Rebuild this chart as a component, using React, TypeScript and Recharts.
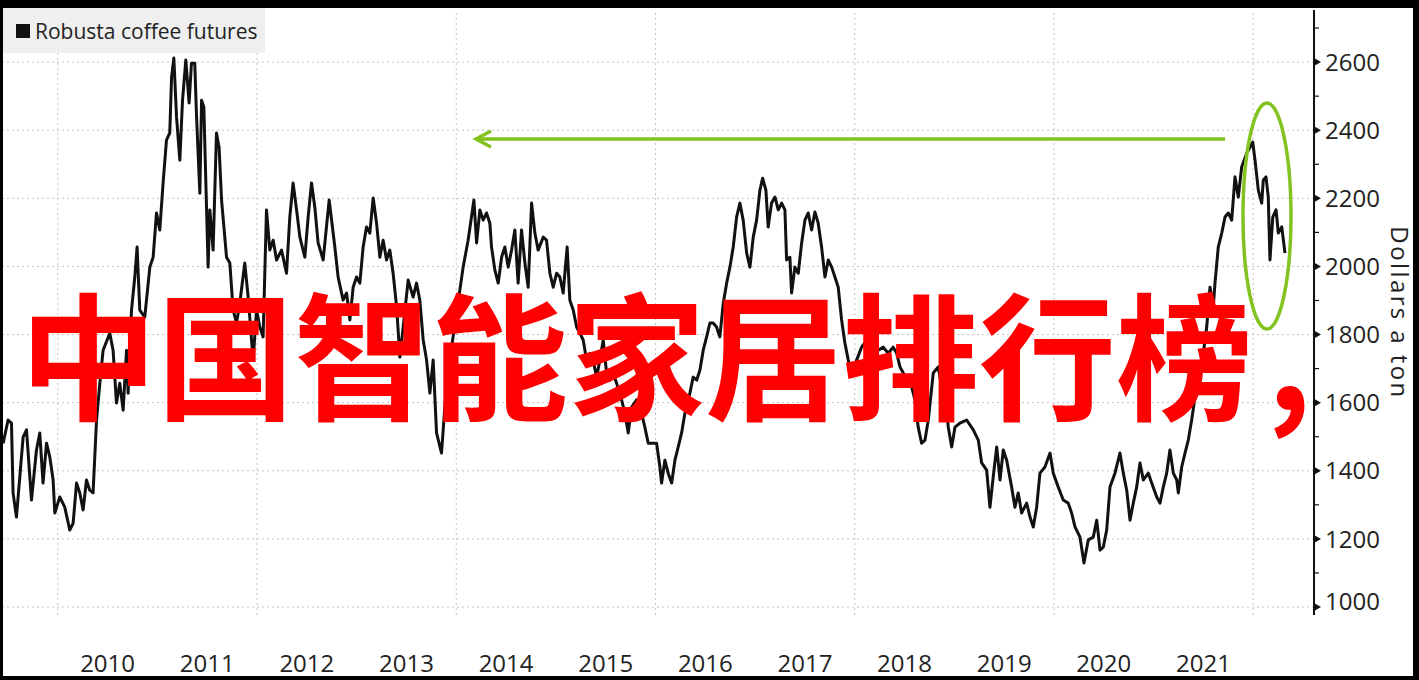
import React from 'react'
import { LineChart, Line, XAxis, YAxis, ReferenceLine } from 'recharts'

// decimal years
const dates = [
  2009.451, 2009.501, 2009.535, 2009.551, 2009.585, 2009.652, 2009.686, 2009.736, 2009.786, 2009.819, 2009.852, 2009.887, 2009.92, 2009.953, 2009.97,
  2010.02, 2010.07, 2010.12, 2010.154, 2010.188, 2010.221, 2010.254, 2010.288, 2010.321, 2010.354, 2010.389, 2010.422, 2010.455,
  2010.522, 2010.555, 2010.589, 2010.622, 2010.656, 2010.69, 2010.706, 2010.74, 2010.773, 2010.796, 2010.823, 2010.873,
  2010.924, 2010.957, 2010.991, 2011.024, 2011.057, 2011.091, 2011.124, 2011.142, 2011.165, 2011.192, 2011.225, 2011.252, 2011.285, 2011.318, 2011.342, 2011.375, 2011.393, 2011.426, 2011.443, 2011.466,
  2011.509, 2011.526, 2011.559, 2011.593, 2011.619, 2011.644, 2011.694, 2011.727, 2011.76, 2011.794, 2011.827, 2011.877, 2011.911, 2011.961, 2011.995, 2012.028, 2012.061, 2012.095, 2012.128, 2012.162,
  2012.196, 2012.246, 2012.296, 2012.329, 2012.362, 2012.397, 2012.43, 2012.48, 2012.513, 2012.547, 2012.58, 2012.613, 2012.664,
  2012.724, 2012.781, 2012.814, 2012.864, 2012.899, 2012.932, 2012.965, 2012.999, 2013.032, 2013.065, 2013.099, 2013.132, 2013.166, 2013.2, 2013.233, 2013.266, 2013.3,
  2013.333, 2013.366, 2013.401, 2013.434, 2013.467, 2013.517, 2013.567, 2013.601, 2013.634, 2013.668, 2013.702, 2013.735, 2013.768, 2013.802, 2013.852, 2013.885, 2013.919, 2013.953,
  2014.069, 2014.119, 2014.177, 2014.204, 2014.237, 2014.27, 2014.304, 2014.337, 2014.354, 2014.387, 2014.421, 2014.455, 2014.488, 2014.521, 2014.555, 2014.588, 2014.621, 2014.655, 2014.689, 2014.722, 2014.756, 2014.789,
  2014.822, 2014.873, 2014.906, 2014.94, 2014.973, 2015.007, 2015.04, 2015.073, 2015.113, 2015.14, 2015.174, 2015.208, 2015.241, 2015.274, 2015.308, 2015.341, 2015.374, 2015.408, 2015.442, 2015.475, 2015.509, 2015.542, 2015.575, 2015.642, 2015.693, 2015.726, 2015.76, 2015.81, 2015.86, 2015.893, 2015.927,
  2016.011, 2016.044, 2016.061, 2016.094, 2016.127, 2016.162, 2016.195, 2016.228, 2016.262, 2016.295, 2016.345, 2016.378, 2016.413, 2016.446, 2016.479, 2016.513, 2016.546, 2016.579, 2016.613, 2016.646, 2016.68, 2016.714, 2016.747, 2016.78, 2016.814, 2016.847, 2016.88, 2016.915, 2016.948,
  2016.981, 2017.015, 2017.048, 2017.075, 2017.108, 2017.131, 2017.165, 2017.199, 2017.232, 2017.266, 2017.299, 2017.316, 2017.349, 2017.366, 2017.399, 2017.433, 2017.467, 2017.5, 2017.533, 2017.567, 2017.6, 2017.633, 2017.667, 2017.701, 2017.734, 2017.768, 2017.801, 2017.834, 2017.868, 2017.901,
  2017.935, 2017.969, 2018.019, 2018.069, 2018.119, 2018.152, 2018.186, 2018.236, 2018.286, 2018.336, 2018.386, 2018.421, 2018.454, 2018.487, 2018.521, 2018.571, 2018.604, 2018.637, 2018.671, 2018.705, 2018.738, 2018.788, 2018.838, 2018.872, 2018.905, 2018.939, 2018.973, 2019.006, 2019.056,
  2019.123, 2019.19, 2019.24, 2019.274, 2019.324, 2019.357, 2019.39, 2019.425, 2019.458, 2019.491, 2019.525, 2019.575, 2019.608, 2019.641, 2019.675, 2019.726, 2019.759, 2019.792, 2019.826, 2019.859, 2019.909, 2019.96, 2019.993, 2020.043, 2020.093, 2020.143, 2020.177, 2020.211, 2020.261, 2020.301, 2020.344,
  2020.394, 2020.429, 2020.462, 2020.495, 2020.529, 2020.562, 2020.612, 2020.662, 2020.696, 2020.73, 2020.763, 2020.796, 2020.83, 2020.863, 2020.897, 2020.947, 2020.981, 2021.031, 2021.064, 2021.097, 2021.131, 2021.164, 2021.198, 2021.232, 2021.248, 2021.282, 2021.315, 2021.348, 2021.382, 2021.415,
  2021.449, 2021.499, 2021.533, 2021.566, 2021.599, 2021.616, 2021.649, 2021.684, 2021.717, 2021.75, 2021.784, 2021.817, 2021.85, 2021.884, 2021.935, 2021.968, 2021.995, 2022.018, 2022.051, 2022.085, 2022.101, 2022.128, 2022.151, 2022.168, 2022.196, 2022.229, 2022.252, 2022.286, 2022.319,
]

// dollars a ton
const prices = [
  1480, 1549, 1540, 1335, 1264, 1499, 1520, 1314, 1461, 1511, 1364, 1481, 1440, 1373, 1276,
  1323, 1293, 1226, 1246, 1364, 1335, 1285, 1373, 1343, 1335, 1549, 1657, 1754,
  1804, 1754, 1599, 1657, 1578, 1754, 1628, 1872, 1969, 2057, 1872, 1851,
  1998, 2027, 2157, 2107, 2245, 2371, 2392, 2556, 2612, 2439, 2312, 2488, 2606, 2480, 2597, 2597, 2439, 2215, 2488, 2468,
  1998, 2166, 2048, 2392, 2350, 2195, 2027, 2010, 1872, 1834, 1892, 2010, 1910, 1725, 1872, 1822, 1793, 2166, 2048, 2077,
  2019, 2048, 1980, 2145, 2245, 2166, 2086, 2027, 2145, 2245, 2174, 2069, 2019,
  2195, 2057, 1969, 1901, 1922, 1843, 1939, 1969, 1951, 2057, 2116, 2098, 2201, 2127, 2027, 2077, 2019,
  2048, 1980, 1881, 1734, 1822, 1960, 1910, 1951, 1901, 1784, 1725, 1628, 1725, 1511, 1452, 1587, 1705, 1763,
  1998, 2077, 2195, 2069, 2166, 2136, 2157, 2127, 2057, 1990, 1951, 2027, 2057, 1998, 2048, 2107, 1951, 2107, 2010, 1939, 2186, 2098,
  2048, 2086, 2077, 1980, 1939, 1980, 1969, 1922, 2057, 1901, 1872, 1822, 1804, 1784, 1725, 1745, 1725, 1675, 1725, 1784, 1687, 1666, 1687, 1628, 1569, 1511, 1587, 1608, 1569, 1528, 1481,
  1481, 1411, 1364, 1431, 1393, 1364, 1431, 1470, 1511, 1569, 1628, 1675, 1666, 1696, 1754, 1793, 1834, 1834, 1822, 1793, 1892, 1951, 1998, 2057, 2145, 2186, 2136, 2039, 1998,
  2086, 2136, 2224, 2259, 2224, 2116, 2186, 2204, 2166, 2186, 2166, 2019, 2027, 1922, 1998, 1980, 2069, 2136, 2157, 2107, 2160, 2127, 2057, 1969, 2019, 1998, 1969, 1939, 1843, 1775,
  1725, 1687, 1725, 1763, 1784, 1763, 1745, 1754, 1763, 1745, 1763, 1745, 1705, 1687, 1657, 1646, 1608, 1528, 1481, 1490, 1549, 1687, 1705, 1646, 1628, 1528, 1470, 1528, 1540,
  1549, 1520, 1490, 1423, 1402, 1293, 1382, 1470, 1373, 1461, 1431, 1352, 1293, 1335, 1276, 1305, 1264, 1235, 1293, 1393, 1411, 1452, 1393, 1352, 1314, 1305, 1276, 1235, 1205, 1129, 1197,
  1205, 1255, 1167, 1176, 1226, 1352, 1393, 1452, 1393, 1343, 1255, 1305, 1352, 1423, 1373, 1393, 1364, 1323, 1305, 1352, 1393, 1461, 1393, 1373, 1335, 1411, 1452, 1490, 1549, 1616,
  1675, 1745, 1822, 1939, 1881, 1951, 2057, 2098, 2145, 2157, 2136, 2263, 2204, 2292, 2333, 2350, 2365, 2312, 2224, 2186, 2254, 2263, 2204, 2019, 2145, 2166, 2098, 2116, 2039,
]

const yearLabels = ['2010', '2011', '2012', '2013', '2014', '2015', '2016', '2017', '2018', '2019', '2020', '2021']
const gridYears = [2010, 2012, 2014, 2016, 2018, 2020, 2022]
const majorTicks = [1000, 1200, 1400, 1600, 1800, 2000, 2200, 2400, 2600]
const allTicks = [1000, 1100, 1200, 1300, 1400, 1500, 1600, 1700, 1800, 1900, 2000, 2100, 2200, 2300, 2400, 2500, 2600, 2700]

const seriesName = 'Robusta coffee futures'
const unitLabel = 'Dollars a ton'
const headline = '中国智能家居排行榜'
const headlineTail = ','

const data = dates.slice(0, Math.min(dates.length, prices.length)).map((t, i) => ({ t, price: prices[i] }))

const FONT = "'Open Sans', 'Noto Sans', sans-serif"
const INK = '#222'
const GRID = '#c4c4c4'
const GREEN = '#82c31f'

function PriceTick(props: any) {
  const { x, y, payload } = props
  const v = payload.value
  const ax = x - 11
  const major = v % 200 === 0
  // the bottom label sits a little higher than its tick
  const lift = v === majorTicks[0] ? -6 : 0
  return (
    <g>
      {major ? (
        <path d={`M${ax},${y - 4} L${ax + 7},${y} L${ax},${y + 4} Z`} fill="#111" />
      ) : (
        <line x1={ax} x2={ax + 5} y1={y} y2={y} stroke="#111" strokeWidth={1.2} />
      )}
      {major && (
        <text x={x} y={y + lift} dy="0.36em" fill={INK} fontSize={24} fontFamily={FONT}>
          {v}
        </text>
      )}
    </g>
  )
}

export default function App() {
  return (
    <div style={{ position: 'absolute', left: 0, top: 0, width: 1419, height: 680, background: '#fff', overflow: 'hidden' }}>
      <LineChart width={1419} height={680} data={data} margin={{ top: 10, right: 35, left: 3, bottom: 0 }}>
        {majorTicks.map((v) => (
          <ReferenceLine key={'h' + v} y={v} stroke={GRID} strokeDasharray="2 3" strokeWidth={1} />
        ))}
        {gridYears.map((yr) => (
          <ReferenceLine key={'v' + yr} x={yr} stroke={GRID} strokeDasharray="2 3" strokeWidth={1} />
        ))}
        <XAxis
          type="number"
          dataKey="t"
          domain={[2009.45, 2022.61]}
          allowDataOverflow
          ticks={yearLabels.map((y) => Number(y) + 0.5)}
          tickFormatter={(v) => String(Math.floor(v))}
          axisLine={false}
          tickLine={false}
          tickSize={0}
          tickMargin={40}
          height={65}
          tick={{ fill: INK, fontSize: 24, fontFamily: FONT }}
        />
        <YAxis
          orientation="right"
          domain={[976.5, 2753]}
          allowDataOverflow
          ticks={allTicks}
          interval={0}
          width={70}
          tickSize={5}
          tickMargin={6}
          tickLine={false}
          axisLine={{ stroke: '#111', strokeWidth: 2 }}
          tick={<PriceTick />}
        />
        <Line
          type="linear"
          dataKey="price"
          stroke="#111"
          strokeWidth={3}
          strokeLinejoin="round"
          dot={false}
          isAnimationActive={false}
        />
      </LineChart>

      {/* legend box */}
      <div
        style={{
          position: 'absolute', left: 3, top: 8, width: 262, height: 45, background: 'rgba(238,238,238,0.92)',
          display: 'flex', alignItems: 'center', fontFamily: FONT, fontSize: 21, color: INK,
        }}
      >
        <span style={{ display: 'inline-block', width: 14, height: 14, background: '#111', marginLeft: 13, marginRight: 5 }} />
        {seriesName}
      </div>

      {/* annotations */}
      <svg width={1419} height={680} style={{ position: 'absolute', left: 0, top: 0, pointerEvents: 'none' }}>
        <line x1={478} y1={139} x2={1225} y2={139} stroke={GREEN} strokeWidth={3.5} />
        <polyline points="491,131 476,139 491,147" fill="none" stroke={GREEN} strokeWidth={3.5} />
        <ellipse cx={1267} cy={216} rx={24} ry={113} fill="none" stroke={GREEN} strokeWidth={3.5} />
        <text x={20} y={410} fontSize={137} fontWeight={700} fill="#ff0000" fontFamily="'Noto Sans CJK SC', sans-serif">
          {headline}
          <tspan dx={14}>{headlineTail}</tspan>
        </text>
        <text
          transform="translate(1400,313) rotate(90)"
          textAnchor="middle"
          dy="0.36em"
          fontSize={24}
          letterSpacing={2.4}
          fill={INK}
          fontFamily={FONT}
        >
          {unitLabel}
        </text>
      </svg>

      {/* frame */}
      <div
        style={{
          position: 'absolute', left: 0, top: 0, width: 1419, height: 680, boxSizing: 'border-box',
          borderStyle: 'solid', borderColor: '#000', borderWidth: '8px 6px 4px 3px', pointerEvents: 'none',
        }}
      />
    </div>
  )
}
